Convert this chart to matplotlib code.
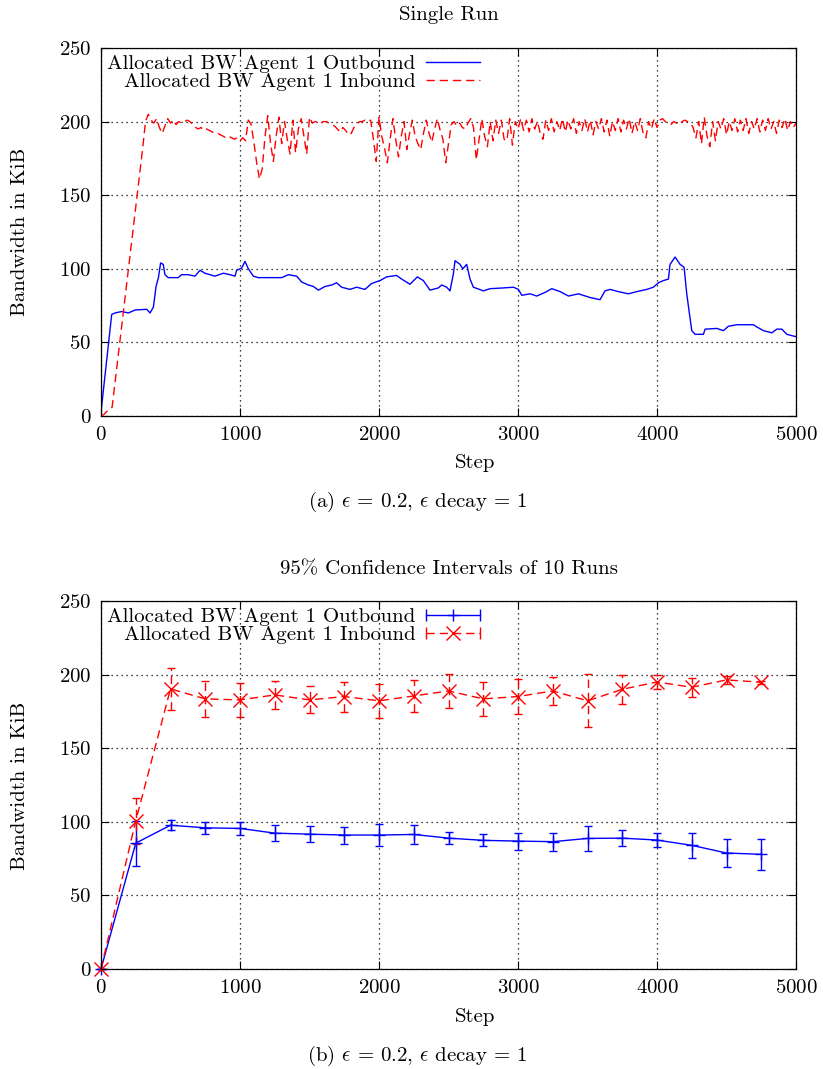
import numpy as np
import matplotlib
matplotlib.use("Agg")
import matplotlib.pyplot as plt
from matplotlib.lines import Line2D
from matplotlib.legend_handler import HandlerLine2D, HandlerTuple

plt.rcParams['font.family'] = 'serif'
plt.rcParams['font.serif'] = ['cmr10']
plt.rcParams['mathtext.fontset'] = 'cm'
plt.rcParams['axes.formatter.use_mathtext'] = True
plt.rcParams['axes.unicode_minus'] = False

FS = 15
BLUE = '#0000ff'
RED = '#ff0000'
DASH = (0, (6, 3.5))

# ---- single run: outbound (blue), sampled at irregular steps
out_steps = [0, 77, 101, 149, 197, 245, 329, 353, 377, 396, 413, 429, 448, 460, 484,
             556, 580, 628, 676, 712, 748, 820, 880, 928, 964, 976, 1012, 1036, 1060,
             1096, 1132, 1204, 1300, 1348, 1408, 1444, 1492, 1528, 1564, 1612, 1660,
             1695, 1731, 1791, 1839, 1899, 1947, 2007, 2055, 2127, 2163, 2223, 2276,
             2319, 2367, 2427, 2451, 2487, 2511, 2535, 2547, 2583, 2603, 2631, 2655,
             2679, 2751, 2799, 2895, 2967, 3003, 3027, 3087, 3135, 3195, 3243, 3303,
             3363, 3435, 3518, 3590, 3626, 3662, 3722, 3794, 3854, 3926, 3974, 4010,
             4046, 4082, 4094, 4130, 4166, 4195, 4214, 4250, 4274, 4334, 4346, 4430,
             4478, 4514, 4574, 4694, 4718, 4766, 4826, 4862, 4898, 4934, 4994, 5000]
out_vals = [2.7, 69, 70, 71, 70, 72, 72.5, 70, 74, 88, 94, 104, 103, 96, 94,
            94, 96, 96, 95, 99, 97, 95, 97, 96, 95, 99, 100.5, 105, 100,
            95, 94, 94, 94, 96, 95, 91, 89, 88, 85.5, 88, 89,
            90.5, 87.5, 86, 87.5, 86, 90, 92, 94.5, 95.5, 93, 89.5, 94.5,
            92, 85.5, 87, 89, 87.5, 85, 96.5, 105.5, 103, 100, 103, 93,
            87.5, 85, 86.5, 87, 87.5, 86, 82, 83, 81.5, 84, 86.5, 84.5,
            81.5, 83, 80.5, 79, 85, 86, 84.5, 83, 84.5, 86, 87.5, 90.5,
            92, 93, 103, 108, 103, 101, 83, 58, 55.5, 55.5, 59, 59.5,
            58, 61, 62, 62, 60.5, 58, 56.5, 59, 59, 55.5, 54, 54]

# ---- single run: inbound (red), every 20 steps
in_steps = list(range(0, 5001, 20))
in_vals = [
    0, 1, 3, 4, 6, 22, 38, 54, 70, 86,
    102, 118, 134, 150, 166, 182, 200, 205, 201, 199,
    202, 196, 192, 197, 202, 199, 201, 198, 200, 199,
    200, 201, 200, 198, 196, 195, 196, 194, 195, 194,
    193, 192, 192, 191, 190, 189, 190, 189, 188, 189,
    187, 189, 187, 201, 198, 186, 172, 161, 168, 190,
    204, 185, 173, 190, 203, 185, 200, 188, 178, 201,
    179, 195, 202, 190, 178, 203, 199, 200, 200, 199,
    200, 200, 199, 198, 197, 195, 193, 196, 194, 191,
    192, 196, 198, 200, 200, 201, 200, 201, 188, 173,
    203, 190, 182, 172, 188, 202, 188, 176, 190, 200,
    181, 192, 201, 190, 185, 181, 192, 201, 192, 186,
    195, 202, 194, 188, 172, 185, 198, 200, 197, 199,
    196, 195, 199, 202, 196, 174, 188, 202, 190, 183,
    200, 187, 201, 192, 201, 188, 187, 202, 184, 200,
    195, 202, 194, 201, 193, 202, 195, 200, 192, 188,
    201, 194, 202, 193, 200, 194, 202, 193, 201, 195,
    202, 192, 200, 194, 202, 193, 201, 191, 200, 195,
    202, 193, 201, 190, 200, 194, 202, 193, 201, 195,
    202, 192, 200, 194, 202, 192, 189, 200, 195, 202,
    196, 201, 202, 200, 199, 198, 200, 199, 198, 200,
    201, 200, 199, 196, 189, 200, 185, 203, 190, 183,
    200, 187, 200, 195, 202, 191, 200, 194, 202, 193,
    201, 194, 202, 192, 200, 195, 202, 193, 201, 194,
    202, 195, 200, 192, 201, 196, 202, 194, 200, 196,
    199]

# ---- 95% confidence intervals over 10 runs
ci_steps = list(range(0, 5000, 250))
ci_out_mean = [0, 85.5, 97.7, 95.9, 95.5, 92.3, 91.6, 91.0, 91.0, 91.4,
               88.9, 87.4, 86.9, 86.5, 88.7, 88.9, 87.6, 84.0, 78.8, 77.9]
ci_out_err = [0, 15.2, 3.4, 4.0, 4.2, 5.3, 5.5, 5.8, 7.6, 6.2,
              4.2, 4.0, 5.8, 6.2, 8.2, 5.6, 4.7, 8.6, 9.7, 10.5]
ci_in_mean = [0, 100.7, 190.3, 183.5, 182.8, 186.2, 182.8, 185.1, 182.2, 185.5,
              188.9, 183.5, 185.1, 188.9, 182.2, 190.0, 195.0, 191.4, 196.4, 194.8]
ci_in_err = [0, 15.7, 14.4, 12.0, 11.5, 9.6, 9.2, 10.2, 11.5, 11.0,
             11.5, 11.3, 11.8, 9.7, 18.0, 10.0, 4.5, 6.3, 2.5, 1.0]

LBL_OUT = 'Allocated BW Agent 1 Outbound'
LBL_IN = 'Allocated BW Agent 1 Inbound'


def style_axes(ax):
    ax.set_xlim(0, 5000)
    ax.set_ylim(0, 250)
    ax.set_xticks(range(0, 5001, 1000))
    ax.set_yticks(range(0, 251, 50))
    ax.tick_params(direction='in', top=True, right=True, length=6, width=0.8,
                   labelsize=FS, pad=7)
    ax.grid(True, color='black', linestyle=(0, (1, 3)), linewidth=0.9)
    for s in ax.spines.values():
        s.set_linewidth(0.9)


fig = plt.figure(figsize=(8.23, 10.69), dpi=100)
W, H = 823.0, 1069.0
ax1 = fig.add_axes([101 / W, 1 - 416 / H, 695 / W, 368 / H])
ax2 = fig.add_axes([101 / W, 1 - 969 / H, 695 / W, 368 / H])

# single run
style_axes(ax1)
ax1.plot(out_steps, out_vals, color=BLUE, lw=1.0, label=LBL_OUT)
ax1.plot(in_steps, in_vals, color=RED, lw=1.0, linestyle=DASH, label=LBL_IN)
ax1.legend(loc='upper left', bbox_to_anchor=(0.0, 1.0), frameon=False,
           markerfirst=False, fontsize=FS, handlelength=2.6, handletextpad=0.5,
           labelspacing=0.0, borderaxespad=0.2, borderpad=0.1)

# confidence intervals
style_axes(ax2)
eb_out = ax2.errorbar(ci_steps, ci_out_mean, yerr=ci_out_err, color=BLUE, lw=1.0,
                      marker='+', markersize=8, markeredgewidth=1.0,
                      capsize=3, capthick=1.0, elinewidth=1.0)
eb_in = ax2.errorbar(ci_steps, ci_in_mean, yerr=ci_in_err, color=RED, lw=1.0,
                     linestyle=DASH, marker='x', markersize=10, markeredgewidth=1.0,
                     capsize=3, capthick=1.0, elinewidth=1.0)
eb_in[2][0].set_linestyle(DASH)
for eb in (eb_out, eb_in):
    eb[0].set_clip_on(False)
    for c in eb[1]:
        c.set_clip_on(False)

# legend samples: |--+--| style
cap_out = Line2D([], [], color=BLUE, lw=1.0, marker='|', markersize=8)
mid_out = Line2D([], [], color=BLUE, ls='none', marker='+', markersize=8)
cap_in = Line2D([], [], color=RED, lw=1.0, ls=DASH, marker='|', markersize=8)
mid_in = Line2D([], [], color=RED, ls='none', marker='x', markersize=10)
hmap = {cap_out: HandlerLine2D(numpoints=2, marker_pad=0),
        cap_in: HandlerLine2D(numpoints=2, marker_pad=0),
        mid_out: HandlerLine2D(numpoints=1),
        mid_in: HandlerLine2D(numpoints=1),
        tuple: HandlerTuple(ndivide=1, pad=0)}
ax2.legend([(cap_out, mid_out), (cap_in, mid_in)], [LBL_OUT, LBL_IN],
           handler_map=hmap,
           loc='upper left', bbox_to_anchor=(0.0, 1.0), frameon=False,
           markerfirst=False, fontsize=FS, handlelength=2.6, handletextpad=0.5,
           labelspacing=0.0, borderaxespad=0.2, borderpad=0.1)

# titles, axis labels and captions
for top, title, cap in [(15, 'Single Run', r'(a) $\epsilon$ = 0.2, $\epsilon$ decay = 1'),
                        (569, '95% Confidence Intervals of 10 Runs',
                         r'(b) $\epsilon$ = 0.2, $\epsilon$ decay = 1')]:
    fig.text(448.5 / W, 1 - top / H, title, ha='center', va='center', fontsize=FS)
    fig.text(475 / W, 1 - (top + 448) / H, 'Step', ha='center', va='center', fontsize=FS)
    fig.text(417 / W, 1 - (top + 487) / H, cap, ha='center', va='center', fontsize=FS)
    fig.text(20 / W, 1 - (top + 217) / H, 'Bandwidth in KiB', rotation=90,
             ha='center', va='center', fontsize=FS)

fig.savefig('out.png', dpi=100)
